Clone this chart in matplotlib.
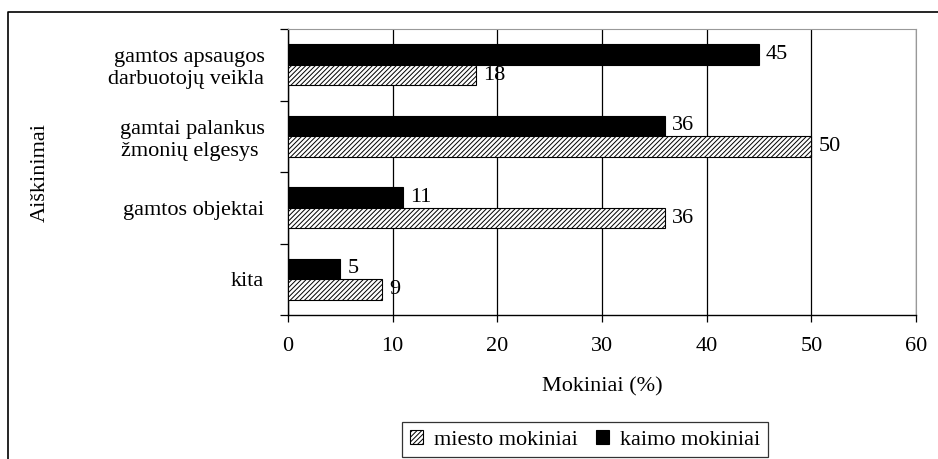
import numpy as np
import matplotlib.pyplot as plt
from matplotlib.lines import Line2D

plt.rcParams["font.family"] = ["Liberation Serif", "DejaVu Serif"]
plt.rcParams["font.size"] = 16
plt.rcParams["hatch.linewidth"] = 0.7

# Data (top to bottom)
categories = ["gamtos apsaugos\ndarbuotojų veikla",
              "gamtai palankus\nžmonių elgesys ",
              "gamtos objektai",
              "kita"]
kaimo = [45, 36, 11, 5]
miesto = [18, 50, 36, 9]
series_labels = ["miesto mokiniai", "kaimo mokiniai"]
x_ticks = [0, 10, 20, 30, 40, 50, 60]

fig = plt.figure(figsize=(9.38, 4.59), dpi=100)
ax = fig.add_axes([288 / 938, 1 - 315 / 459, 628 / 938, 286 / 459])

y = np.arange(len(categories))
h = 0.287

b_kaimo = ax.barh(y - h / 2, kaimo, height=h, color="black", edgecolor="black",
                  linewidth=0.8, label=series_labels[1], zorder=3)
b_miesto = ax.barh(y + h / 2, miesto, height=h, color="white", edgecolor="black",
                   hatch="///////", linewidth=0.8, label=series_labels[0], zorder=3)
ax.bar_label(b_kaimo, padding=5)
ax.bar_label(b_miesto, padding=5)

ax.set_xlim(0, 60)
ax.set_ylim(len(categories) - 0.5, -0.5)
ax.set_xticks(x_ticks)
ax.xaxis.grid(True, color="black", linewidth=0.9, zorder=0)
ax.set_axisbelow(True)
ax.tick_params(axis="x", direction="out", length=5, width=0.9, pad=11)

# category boundaries as ticks, labels at centres
ax.set_yticks(np.arange(-0.5, len(categories), 1.0))
ax.set_yticklabels([])
ax.tick_params(axis="y", which="major", direction="out", length=6, width=0.9)
ax.set_yticks(y, minor=True)
ax.set_yticklabels(categories, minor=True, multialignment="right")
ax.tick_params(axis="y", which="minor", length=0, pad=17)

for s in ["top", "right"]:
    ax.spines[s].set_color("#999999")
for s in ["left", "bottom"]:
    ax.spines[s].set_color("black")
    ax.spines[s].set_linewidth(1.0)

ax.set_xlabel("Mokiniai (%)", labelpad=15)
ax.set_ylabel("Aiškinimai")
ax.yaxis.set_label_coords(-0.38, 0.5)

handles, labels = ax.get_legend_handles_labels()
leg = fig.legend(handles[::-1], labels[::-1], loc="upper left",
                 bbox_to_anchor=(402 / 938, 1 - 422 / 459), ncol=2,
                 frameon=True, fancybox=False, edgecolor="black",
                 handlelength=0.6, handleheight=0.6, handletextpad=0.5,
                 columnspacing=0.8, borderpad=0.35, borderaxespad=0)
leg.get_frame().set_linewidth(0.9)

# outer chart border (left and top edges visible)
fig.add_artist(Line2D([8 / 938, 8 / 938, 1.0], [0.0, 1 - 12 / 459, 1 - 12 / 459],
                      color="black", linewidth=1.2, transform=fig.transFigure))

fig.savefig("out.png", dpi=100)
